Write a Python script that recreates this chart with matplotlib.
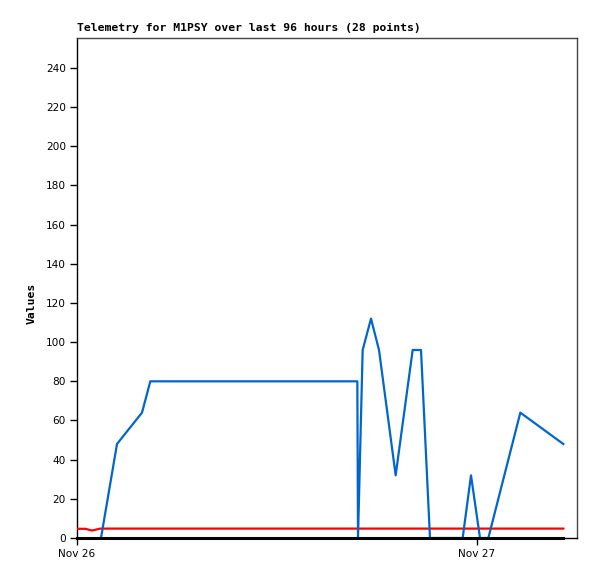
import matplotlib
matplotlib.use("Agg")
import matplotlib.pyplot as plt

# hours since Nov 26 00:00
blue_hours = [1.44, 2.40, 3.90, 4.40, 16.82, 16.86, 17.14, 17.64, 18.12, 19.12,
              20.14, 20.64, 21.18, 23.14, 23.64, 24.18, 24.68, 26.60, 29.18]
blue_values = [0, 48, 64, 80, 80, 0, 96, 112, 96, 32,
               96, 96, 0, 0, 32, 0, 0, 64, 48]
red_hours = [0.0, 0.5, 0.9, 1.4, 29.18]
red_values = [4.7, 4.7, 3.8, 4.8, 4.8]
black_hours = [0.0, 29.18]
black_values = [0, 0]

x_tick_pos = [0, 24]
x_tick_labels = ["Nov 26", "Nov 27"]
y_ticks = list(range(0, 241, 20))
title = "Telemetry for M1PSY over last 96 hours (28 points)"

fig = plt.figure(figsize=(5.97, 5.79), dpi=100)
ax = fig.add_axes([77/597, 1-538/579, 500/597, 500/579])

ax.plot(red_hours, red_values, color="#ff0000", lw=1.6, zorder=3)
ax.plot(blue_hours, blue_values, color="#0066cc", lw=1.6, zorder=4)
ax.plot(black_hours, black_values, color="#000000", lw=2.2, zorder=5, clip_on=False)

ax.set_xlim(0, 30)
ax.set_ylim(0, 255.3)
ax.set_yticks(y_ticks)
ax.set_yticklabels([str(v) for v in y_ticks])
ax.set_xticks(x_tick_pos)
ax.set_xticklabels(x_tick_labels)
ax.tick_params(axis="both", direction="out", length=5, width=1, labelsize=7.6, pad=3, colors="black")
for s in ["top", "right"]:
    ax.spines[s].set_color("#444444")
    ax.spines[s].set_linewidth(1)
for s in ["left", "bottom"]:
    ax.spines[s].set_color("black")
    ax.spines[s].set_linewidth(1)

fig.text(77/597, 1-31/579, title, family="DejaVu Sans Mono", fontweight="bold",
         fontsize=8.2, ha="left", va="baseline")
fig.text(32/597, 1-303/579, "Values", family="DejaVu Sans Mono", fontweight="bold",
         fontsize=8.2, rotation=90, ha="center", va="center")

fig.savefig("out.png", dpi=100)
